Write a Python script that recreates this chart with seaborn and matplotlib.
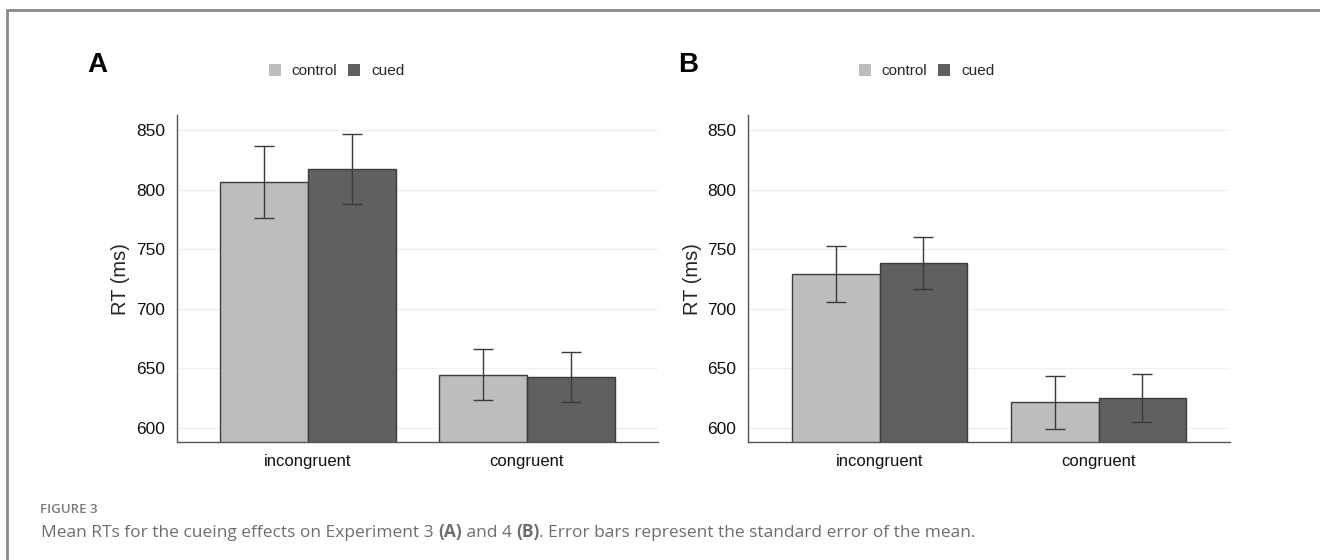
import matplotlib
matplotlib.use("Agg")
import matplotlib.pyplot as plt
import pandas as pd
import seaborn as sns
from matplotlib.patches import Rectangle
from matplotlib.lines import Line2D

# valores
condiciones = ["incongruent", "congruent"]
grupos = ["control", "cued"]

media_a = {"control": [806.5, 644.5], "cued": [817.0, 642.3]}
se_a = {"control": [30.3, 21.3], "cued": [29.3, 21.0]}

media_b = {"control": [729.0, 621.3], "cued": [738.5, 624.7]}
se_b = {"control": [23.6, 22.3], "cued": [21.7, 20.3]}

colores = {"control": "#bdbdbd", "cued": "#606060"}


def tabla_larga(medias, errores):
    filas = []
    for g in grupos:
        for i, c in enumerate(condiciones):
            filas.append({"condicion": c, "grupo": g, "rt": medias[g][i], "se": errores[g][i]})
    return pd.DataFrame(filas)


def panel(ax, df):
    sns.barplot(data=df, x="condicion", y="rt", hue="grupo", order=condiciones,
                hue_order=grupos, palette=colores, errorbar=None, width=0.8,
                edgecolor="#3c3c3c", linewidth=1.0, ax=ax, legend=False)
    # barras de error sobre el centro de cada barra
    for cont, g in zip(ax.containers, grupos):
        sub = df[df["grupo"] == g].set_index("condicion").loc[condiciones]
        xs = [p.get_x() + p.get_width() / 2 for p in cont.patches]
        ax.errorbar(xs, sub["rt"], yerr=sub["se"], fmt="none", ecolor="#3a3a3a",
                    elinewidth=1.0, capsize=7.5, capthick=1.0, zorder=5)
    ax.set_ylim(587.7, 862.6)
    ax.set_xlim(-0.6, 1.6)
    ax.set_yticks([600, 650, 700, 750, 800, 850])
    ax.yaxis.grid(True, color="#f0f0f0", linewidth=1.0)
    ax.xaxis.grid(False)
    ax.set_axisbelow(True)
    ax.set_xlabel("")
    ax.set_ylabel("RT (ms)", fontsize=14.5, labelpad=4)
    for s in ["top", "right"]:
        ax.spines[s].set_visible(False)
    for s in ["left", "bottom"]:
        ax.spines[s].set_color("#555555")
        ax.spines[s].set_linewidth(1.0)
    ax.tick_params(axis="both", length=5, width=1.0, color="#555555",
                   labelcolor="#111111", labelsize=12.5)
    ax.tick_params(axis="x", labelsize=12)


sns.set_theme(style="white")
plt.rcParams["font.family"] = ["Liberation Sans", "DejaVu Sans"]

fig = plt.figure(figsize=(13.2, 5.6), dpi=100)
W, H = 1320, 560

ax_a = fig.add_axes([176.7 / W, 1 - 442.3 / H, 481.6 / W, 327.3 / H])
ax_b = fig.add_axes([748.3 / W, 1 - 442.3 / H, 481.6 / W, 327.3 / H])

panel(ax_a, tabla_larga(media_a, se_a))
panel(ax_b, tabla_larga(media_b, se_b))

# letras de panel
fig.text(87 / W, 1 - 72 / H, "A", fontsize=20, fontweight="bold", color="black")
fig.text(678 / W, 1 - 72 / H, "B", fontsize=20, fontweight="bold", color="black")

# leyendas arriba de cada panel
handles = [Rectangle((0, 0), 1, 1, facecolor=colores[g], edgecolor="none") for g in grupos]
for cx in [336.5, 926.5]:
    fig.legend(handles, grupos, loc="center", bbox_to_anchor=(cx / W, 1 - 71 / H),
               ncol=2, frameon=False, handlelength=0.8, handleheight=0.8,
               handletextpad=0.7, columnspacing=0.7, borderpad=0,
               prop={"family": ["Liberation Sans"], "size": 11})

# marco exterior
fig.add_artist(Line2D([7 / W, 7 / W], [0, 1 - 10 / H], color="#8a8a8a", linewidth=2,
                      transform=fig.transFigure))
fig.add_artist(Line2D([7 / W, 1], [1 - 10 / H, 1 - 10 / H], color="#8a8a8a", linewidth=2,
                      transform=fig.transFigure))

# pie de figura
fig.text(40 / W, 1 - 513 / H, "FIGURE 3", fontsize=9.5, fontweight="semibold",
         color="#7a7a7a", family=["Open Sans", "DejaVu Sans"])

trozos = [("Mean RTs for the cueing effects on Experiment 3 ", "normal"),
          ("(A)", "bold"),
          (" and 4 ", "normal"),
          ("(B)", "bold"),
          (". Error bars represent the standard error of the mean.", "normal")]
fig.canvas.draw()
rend = fig.canvas.get_renderer()
x = 40.7 / W
for txt, peso in trozos:
    t = fig.text(x, 1 - 537 / H, txt, fontsize=12.5, fontweight=peso,
                 color="#6e6e6e", family=["Open Sans", "DejaVu Sans"])
    bb = t.get_window_extent(renderer=rend)
    # el ancho incluye espacios finales
    x += bb.width / W

fig.savefig("out.png", dpi=100)
